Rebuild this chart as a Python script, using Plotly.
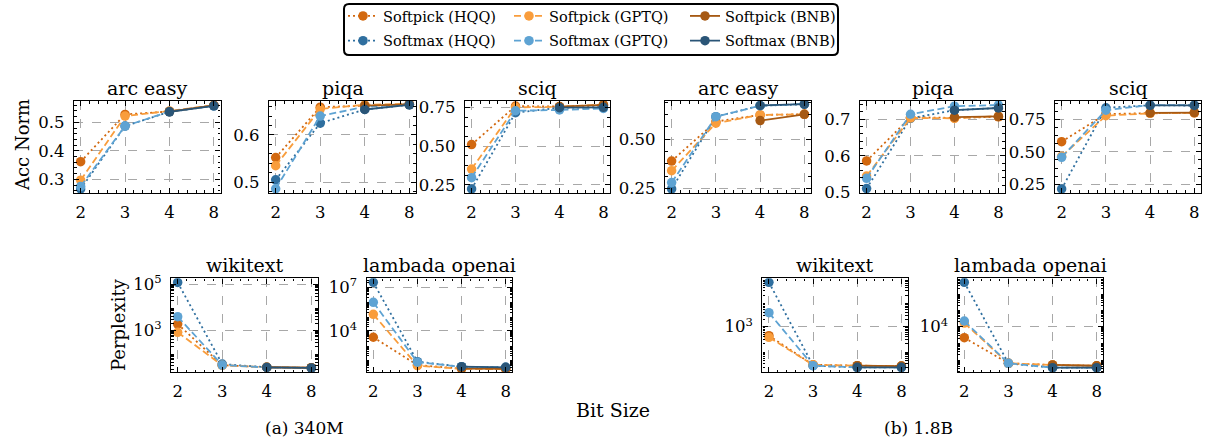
import plotly.graph_objects as go

W, H = 1207, 439
FONT = "DejaVu Serif"

# ---------------- data ----------------
bits = ["2", "3", "4", "8"]
bit_index = [0, 1, 2, 3]

series_names = ["Softpick (HQQ)", "Softmax (HQQ)", "Softpick (GPTQ)",
                "Softmax (GPTQ)", "Softpick (BNB)", "Softmax (BNB)"]

# arc easy, 340M
arc_easy_340m_softpick_hqq = [0.362, 0.528, 0.538, 0.560]
arc_easy_340m_softmax_hqq = [0.266, 0.487, 0.537, 0.558]
arc_easy_340m_softpick_gptq = [0.297, 0.522, 0.540, 0.560]
arc_easy_340m_softmax_gptq = [0.275, 0.487, 0.538, 0.558]
arc_easy_340m_softpick_bnb = [None, None, 0.538, 0.560]
arc_easy_340m_softmax_bnb = [None, None, 0.537, 0.558]

# piqa, 340M
piqa_340m_softpick_hqq = [0.552, 0.659, 0.662, 0.665]
piqa_340m_softmax_hqq = [0.505, 0.625, 0.654, 0.664]
piqa_340m_softpick_gptq = [0.535, 0.655, 0.664, 0.666]
piqa_340m_softmax_gptq = [0.486, 0.640, 0.660, 0.665]
piqa_340m_softpick_bnb = [None, None, 0.662, 0.665]
piqa_340m_softmax_bnb = [None, None, 0.654, 0.664]

# sciq, 340M
sciq_340m_softpick_hqq = [0.511, 0.760, 0.757, 0.765]
sciq_340m_softmax_hqq = [0.224, 0.717, 0.750, 0.752]
sciq_340m_softpick_gptq = [0.353, 0.752, 0.755, 0.770]
sciq_340m_softmax_gptq = [0.297, 0.730, 0.735, 0.745]
sciq_340m_softpick_bnb = [None, None, 0.757, 0.768]
sciq_340m_softmax_bnb = [None, None, 0.750, 0.752]

# arc easy, 1.8B
arc_easy_1_8b_softpick_hqq = [0.389, 0.590, 0.624, 0.627]
arc_easy_1_8b_softmax_hqq = [0.247, 0.615, 0.671, 0.678]
arc_easy_1_8b_softpick_gptq = [0.340, 0.582, 0.624, 0.627]
arc_easy_1_8b_softmax_gptq = [0.279, 0.615, 0.671, 0.680]
arc_easy_1_8b_softpick_bnb = [None, None, 0.595, 0.627]
arc_easy_1_8b_softmax_bnb = [None, None, 0.672, 0.679]

# piqa, 1.8B
piqa_1_8b_softpick_hqq = [0.586, 0.705, 0.703, 0.706]
piqa_1_8b_softmax_hqq = [0.511, 0.702, 0.724, 0.730]
piqa_1_8b_softpick_gptq = [0.545, 0.703, 0.702, 0.708]
piqa_1_8b_softmax_gptq = [0.539, 0.713, 0.735, 0.738]
piqa_1_8b_softpick_bnb = [None, None, 0.705, 0.707]
piqa_1_8b_softmax_bnb = [None, None, 0.724, 0.730]

# sciq, 1.8B
sciq_1_8b_softpick_hqq = [0.578, 0.790, 0.798, 0.800]
sciq_1_8b_softmax_hqq = [0.214, 0.839, 0.858, 0.856]
sciq_1_8b_softpick_gptq = [0.465, 0.778, 0.796, 0.800]
sciq_1_8b_softmax_gptq = [0.458, 0.820, 0.860, 0.860]
sciq_1_8b_softpick_bnb = [None, None, 0.800, 0.802]
sciq_1_8b_softmax_bnb = [None, None, 0.858, 0.857]

# wikitext perplexity, 340M
wikitext_340m_softpick_hqq = [1820, 29.5, 24.0, 22.9]
wikitext_340m_softmax_hqq = [117000, 33.0, 24.0, 22.4]
wikitext_340m_softpick_gptq = [795, 29.0, 24.0, 22.9]
wikitext_340m_softmax_gptq = [3800, 30.0, 23.5, 22.4]
wikitext_340m_softpick_bnb = [None, None, 24.0, 22.9]
wikitext_340m_softmax_bnb = [None, None, 23.5, 22.4]

# lambada openai perplexity, 340M
lambada_340m_softpick_hqq = [3700, 45, 26, 25]
lambada_340m_softmax_hqq = [22000000, 78, 35, 32]
lambada_340m_softpick_gptq = [140000, 41, 25, 24]
lambada_340m_softmax_gptq = [930000, 71, 35, 32]
lambada_340m_softpick_bnb = [None, None, 26, 25]
lambada_340m_softmax_bnb = [None, None, 35, 32]

# wikitext perplexity, 1.8B
wikitext_1_8b_softpick_hqq = [427, 27.0, 24.8, 24.0]
wikitext_1_8b_softmax_hqq = [67100, 24.8, 21.3, 21.3]
wikitext_1_8b_softpick_gptq = [366, 27.0, 24.8, 24.0]
wikitext_1_8b_softmax_gptq = [3770, 24.8, 21.3, 21.3]
wikitext_1_8b_softpick_bnb = [None, None, 24.8, 24.0]
wikitext_1_8b_softmax_bnb = [None, None, 21.3, 21.3]

# lambada openai perplexity, 1.8B
lambada_1_8b_softpick_hqq = [2150, 60, 48, 43]
lambada_1_8b_softmax_hqq = [4900000, 60, 33, 33]
lambada_1_8b_softpick_gptq = [16700, 60, 48, 43]
lambada_1_8b_softmax_gptq = [22100, 60, 33, 33]
lambada_1_8b_softpick_bnb = [None, None, 48, 43]
lambada_1_8b_softmax_bnb = [None, None, 33, 33]

# ---------------- styles ----------------
series_colors = ["#d2680f", "#2f6f9f", "#f99d3c", "#5ea3d3", "#a65913", "#2a5577"]
series_dashes = ["2px,3px", "2px,3px", "7px,3.5px", "7px,3.5px", "solid", "solid"]

panels = [
    dict(title="arc easy", data=[arc_easy_340m_softpick_hqq, arc_easy_340m_softmax_hqq,
                                 arc_easy_340m_softpick_gptq, arc_easy_340m_softmax_gptq,
                                 arc_easy_340m_softpick_bnb, arc_easy_340m_softmax_bnb],
         log=False, rng=[0.252, 0.575], tv=[0.3, 0.4, 0.5], fmt="{:.1f}", minor=0.02,
         px=(74, 220.5), py=(101, 193)),
    dict(title="piqa", data=[piqa_340m_softpick_hqq, piqa_340m_softmax_hqq,
                             piqa_340m_softpick_gptq, piqa_340m_softmax_gptq,
                             piqa_340m_softpick_bnb, piqa_340m_softmax_bnb],
         log=False, rng=[0.477, 0.672], tv=[0.5, 0.6], fmt="{:.1f}", minor=0.02,
         px=(269, 416), py=(101, 193)),
    dict(title="sciq", data=[sciq_340m_softpick_hqq, sciq_340m_softmax_hqq,
                             sciq_340m_softpick_gptq, sciq_340m_softmax_gptq,
                             sciq_340m_softpick_bnb, sciq_340m_softmax_bnb],
         log=False, rng=[0.198, 0.793], tv=[0.25, 0.5, 0.75], fmt="{:.2f}", minor=0.0625,
         px=(465, 610), py=(101, 193)),
    dict(title="arc easy", data=[arc_easy_1_8b_softpick_hqq, arc_easy_1_8b_softmax_hqq,
                                 arc_easy_1_8b_softpick_gptq, arc_easy_1_8b_softmax_gptq,
                                 arc_easy_1_8b_softpick_bnb, arc_easy_1_8b_softmax_bnb],
         log=False, rng=[0.226, 0.695], tv=[0.25, 0.5], fmt="{:.2f}", minor=0.0625,
         px=(665, 811), py=(101, 193)),
    dict(title="piqa", data=[piqa_1_8b_softpick_hqq, piqa_1_8b_softmax_hqq,
                             piqa_1_8b_softpick_gptq, piqa_1_8b_softmax_gptq,
                             piqa_1_8b_softpick_bnb, piqa_1_8b_softmax_bnb],
         log=False, rng=[0.499, 0.749], tv=[0.5, 0.6, 0.7], fmt="{:.1f}", minor=0.02,
         px=(860, 1005), py=(101, 193)),
    dict(title="sciq", data=[sciq_1_8b_softpick_hqq, sciq_1_8b_softmax_hqq,
                             sciq_1_8b_softpick_gptq, sciq_1_8b_softmax_gptq,
                             sciq_1_8b_softpick_bnb, sciq_1_8b_softmax_bnb],
         log=False, rng=[0.183, 0.891], tv=[0.25, 0.5, 0.75], fmt="{:.2f}", minor=0.0625,
         px=(1055, 1201), py=(101, 193)),
    dict(title="wikitext", data=[wikitext_340m_softpick_hqq, wikitext_340m_softmax_hqq,
                                 wikitext_340m_softpick_gptq, wikitext_340m_softmax_gptq,
                                 wikitext_340m_softpick_bnb, wikitext_340m_softmax_bnb],
         log=True, rng=[1.161, 5.248], tv=[1, 3, 5],
         px=(171, 318), py=(278.3, 372.3)),
    dict(title="lambada openai", data=[lambada_340m_softpick_hqq, lambada_340m_softmax_hqq,
                                       lambada_340m_softpick_gptq, lambada_340m_softmax_gptq,
                                       lambada_340m_softpick_bnb, lambada_340m_softmax_bnb],
         log=True, rng=[1.16, 7.62], tv=[1, 4, 7],
         px=(366.7, 512.3), py=(278.3, 372.3)),
    dict(title="wikitext", data=[wikitext_1_8b_softpick_hqq, wikitext_1_8b_softmax_hqq,
                                 wikitext_1_8b_softpick_gptq, wikitext_1_8b_softmax_gptq,
                                 wikitext_1_8b_softpick_bnb, wikitext_1_8b_softmax_bnb],
         log=True, rng=[1.123, 4.992], tv=[1, 3, 5],
         px=(762.3, 908), py=(278.3, 372.3)),
    dict(title="lambada openai", data=[lambada_1_8b_softpick_hqq, lambada_1_8b_softmax_hqq,
                                       lambada_1_8b_softpick_gptq, lambada_1_8b_softmax_gptq,
                                       lambada_1_8b_softpick_bnb, lambada_1_8b_softmax_bnb],
         log=True, rng=[1.236, 6.933], tv=[1, 4, 7],
         px=(957.7, 1103.3), py=(278.3, 372.3)),
]


def fx(p):
    return p / W


def fy(p):
    return 1 - p / H


fig = go.Figure()
layout = dict(
    width=W, height=H,
    margin=dict(l=0, r=0, t=0, b=0, autoexpand=False),
    paper_bgcolor="white", plot_bgcolor="white",
    font=dict(family=FONT, size=16, color="black"),
    showlegend=True,
)

annotations = []
legend_pos = [(343, 16), (343, 40.7), (509, 16), (509, 40.7), (685, 16), (685, 40.7)]

for i, p in enumerate(panels):
    k = i + 1
    xa = "x" if k == 1 else f"x{k}"
    ya = "y" if k == 1 else f"y{k}"
    for s in range(6):
        leg = "legend" if s == 0 else f"legend{s + 1}"
        fig.add_trace(go.Scatter(
            x=bit_index, y=p["data"][s], xaxis=xa, yaxis=ya,
            mode="lines+markers", name=series_names[s],
            line=dict(color=series_colors[s], width=1.8, dash=series_dashes[s]),
            marker=dict(color=series_colors[s], size=9.5, symbol="circle"),
            showlegend=(i == 0), legend=leg, connectgaps=False,
            hoverinfo="skip",
        ))
    common = dict(
        showline=True, linecolor="black", linewidth=1.4, mirror="allticks",
        ticks="inside", ticklen=5, tickwidth=1, tickcolor="black",
        showgrid=True, gridcolor="#a8a8a8", griddash="dash", gridwidth=1,
        zeroline=False, tickfont=dict(family=FONT, size=16.5, color="black"),
    )
    xaxis = dict(common, domain=[fx(p["px"][0]), fx(p["px"][1])],
                 anchor=ya,
                 range=[-0.15, 3.15], tickmode="array", tickvals=bit_index, ticktext=bits,
                 minor=dict(ticks="inside", ticklen=2.5, tickcolor="black", dtick=0.2, tick0=0),
                 ticklabelstandoff=4)
    yaxis = dict(common, domain=[fy(p["py"][1]), fy(p["py"][0])],
                 anchor=xa, ticklabelstandoff=5)
    if p["log"]:
        minor_vals = [m * 10 ** d for d in range(0, 9) for m in range(2, 10)]
        yaxis.update(type="log", range=p["rng"], tickmode="array",
                     tickvals=[10 ** e for e in p["tv"]],
                     ticktext=[f"10<sup>{e}</sup>" for e in p["tv"]],
                     minor=dict(ticks="inside", ticklen=2.5, tickcolor="black",
                                tickmode="array", tickvals=minor_vals))
    else:
        yaxis.update(range=p["rng"], tickmode="array", tickvals=p["tv"],
                     ticktext=[p["fmt"].format(v) for v in p["tv"]],
                     minor=dict(ticks="inside", ticklen=2.5, tickcolor="black",
                                dtick=p["minor"], tick0=0))
    layout["xaxis" if k == 1 else f"xaxis{k}"] = xaxis
    layout["yaxis" if k == 1 else f"yaxis{k}"] = yaxis
    cx = (p["px"][0] + p["px"][1]) / 2
    annotations.append(dict(text=p["title"], x=fx(cx), y=fy(p["py"][0] - 13),
                            xref="paper", yref="paper", showarrow=False,
                            xanchor="center", yanchor="middle",
                            font=dict(family=FONT, size=19, color="black")))

for s in range(6):
    key = "legend" if s == 0 else f"legend{s + 1}"
    lx, ly = legend_pos[s]
    layout[key] = dict(x=fx(lx), y=fy(ly), xanchor="left", yanchor="middle",
                       bgcolor="rgba(0,0,0,0)", borderwidth=0,
                       font=dict(family=FONT, size=14.5, color="black"))

labels = [("Acc Norm", 22, 145, -90, 18), ("Perplexity", 118, 325, -90, 18),
          ("Bit Size", 613, 410, 0, 19), ("(a) 340M", 304, 428, 0, 17),
          ("(b) 1.8B", 918, 428, 0, 17)]
for t, x, y, ang, sz in labels:
    annotations.append(dict(text=t, x=fx(x), y=fy(y), xref="paper", yref="paper",
                            showarrow=False, textangle=ang, xanchor="center",
                            yanchor="middle", font=dict(family=FONT, size=sz, color="black")))

x0, x1, y0, y1, r = fx(344), fx(838), fy(55), fy(4), 5
rx, ry = r / W, r / H
path = (f"M{x0 + rx},{y0} L{x1 - rx},{y0} Q{x1},{y0} {x1},{y0 + ry} "
        f"L{x1},{y1 - ry} Q{x1},{y1} {x1 - rx},{y1} L{x0 + rx},{y1} "
        f"Q{x0},{y1} {x0},{y1 - ry} L{x0},{y0 + ry} Q{x0},{y0} {x0 + rx},{y0} Z")
layout["shapes"] = [dict(type="path", path=path, xref="paper", yref="paper",
                         line=dict(color="black", width=2), fillcolor="rgba(0,0,0,0)")]
layout["annotations"] = annotations

fig.update_layout(**layout)
fig.write_html("out.html")
